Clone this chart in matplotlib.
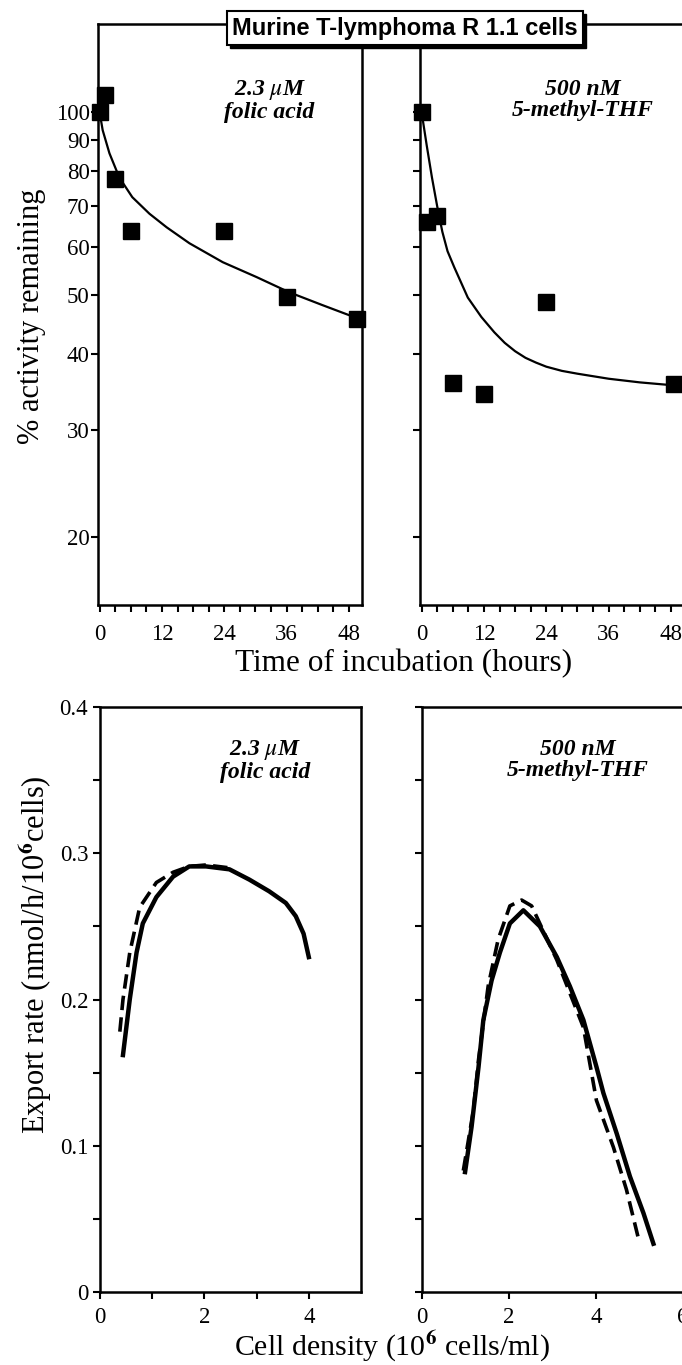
import matplotlib
matplotlib.use("Agg")
import matplotlib.pyplot as plt
from matplotlib.ticker import FixedLocator, NullFormatter, NullLocator

plt.rcParams['font.family'] = ['Liberation Serif', 'DejaVu Serif']
plt.rcParams['mathtext.fontset'] = 'stix'

# --- top panels: % activity remaining vs time (h) ---
folic_hours = [0, 1, 3, 6, 24, 36, 49.5]
folic_pct = [100, 106.8, 77.5, 63.6, 63.6, 49.6, 45.6]
folic_fit_hours = [0, 0.6, 1.9, 3.8, 6.3, 9.6, 12.9, 17.3, 23.7, 30.2, 36.5, 42.9, 49.8]
folic_fit_pct = [100, 93.3, 85.5, 78, 72.4, 68, 64.6, 60.8, 56.6, 53.5, 50.5, 48.1, 45.7]

mthf_hours = [0, 1, 3, 6, 12, 24, 48.5]
mthf_pct = [100, 66, 67.5, 35.8, 34.4, 48.6, 35.7]
mthf_fit_hours = [0, 1, 2, 3, 4, 5, 6.3, 8.9, 11.5, 14, 16, 18, 20, 22, 24, 27, 30,
                  36, 42, 48.5]
mthf_fit_pct = [100, 88, 78, 70, 63.5, 59, 55.5, 49.5, 46, 43.4, 41.7, 40.4, 39.4, 38.7,
                38.1, 37.5, 37.1, 36.4, 35.9, 35.5]

# --- bottom panels: export rate vs cell density ---
folic_solid_x = [0.44, 0.57, 0.7, 0.82, 1.08, 1.4, 1.71, 2.03, 2.48, 2.86, 3.24, 3.56, 3.75, 3.9, 4.0]
folic_solid_y = [0.162, 0.2, 0.232, 0.252, 0.27, 0.284, 0.291, 0.291, 0.289, 0.282, 0.274, 0.266, 0.257, 0.245, 0.229]
folic_dash_x = [0.38, 0.44, 0.57, 0.76, 1.08, 1.4, 1.71, 2.03, 2.48]
folic_dash_y = [0.178, 0.2, 0.232, 0.263, 0.28, 0.287, 0.291, 0.292, 0.29]

mthf_solid_x = [0.99, 1.14, 1.3, 1.41, 1.6, 1.79, 2.02, 2.33, 2.71, 3.1, 3.4, 3.71, 4.01, 4.17, 4.48, 4.78, 5.09, 5.32]
mthf_solid_y = [0.082, 0.113, 0.154, 0.186, 0.213, 0.232, 0.252, 0.261, 0.25, 0.229, 0.209, 0.186, 0.154, 0.136, 0.108, 0.079, 0.054, 0.033]
mthf_dash_x = [0.95, 1.18, 1.3, 1.52, 1.75, 2.02, 2.29, 2.52, 3.1, 3.71, 4.01, 4.4, 4.7, 4.98]
mthf_dash_y = [0.083, 0.124, 0.159, 0.209, 0.241, 0.264, 0.268, 0.264, 0.227, 0.181, 0.131, 0.099, 0.07, 0.036]

pct_ticks = [20, 30, 40, 50, 60, 70, 80, 90, 100]
hour_ticks = [0, 12, 24, 36, 48]

W, H = 682, 1365
fig = plt.figure(figsize=(W / 100, H / 100), dpi=100)


def box(x0, x1, y0, y1):
    return [x0 / W, 1 - y1 / H, (x1 - x0) / W, (y1 - y0) / H]


ax_tl = fig.add_axes(box(98, 362, 24, 605))
ax_tr = fig.add_axes(box(420, 684, 24, 605))
ax_bl = fig.add_axes(box(100, 361, 707, 1292))
ax_br = fig.add_axes(box(422, 683, 707, 1292))

for ax in (ax_tl, ax_tr, ax_bl, ax_br):
    for s in ax.spines.values():
        s.set_linewidth(1.8)
    ax.tick_params(which='both', direction='out', length=5, width=1.5,
                   labelsize=16.5, top=False, right=False)
    ax.tick_params(axis='x', pad=9)

for ax in (ax_bl, ax_br):
    ax.tick_params(axis='x', pad=6)

note = dict(fontsize=17, fontweight='bold', style='italic', ha='center',
            va='center', linespacing=1.0)

# top left
ax_tl.plot(folic_fit_hours, folic_fit_pct, color='black', lw=1.6)
ax_tl.plot(folic_hours, folic_pct, 's', color='black', ms=11, clip_on=False)
# top right
ax_tr.plot(mthf_fit_hours, mthf_fit_pct, color='black', lw=1.6)
ax_tr.plot(mthf_hours, mthf_pct, 's', color='black', ms=11, clip_on=False)

for ax in (ax_tl, ax_tr):
    ax.set_yscale('log')
    ax.set_ylim(15.45, 139.5)
    ax.set_xlim(-0.3, 50.5)
    ax.yaxis.set_major_locator(FixedLocator(pct_ticks))
    ax.yaxis.set_minor_locator(NullLocator())
    ax.yaxis.set_minor_formatter(NullFormatter())
    ax.xaxis.set_major_locator(FixedLocator(hour_ticks))
    ax.xaxis.set_minor_locator(FixedLocator(range(0, 49, 3)))
    ax.set_xticklabels([str(t) for t in hour_ticks])

ax_tl.set_yticklabels([str(t) for t in pct_ticks])
ax_tr.set_yticklabels([])
ax_tl.tick_params(axis='y', pad=1)
ax_tl.set_ylabel('% activity remaining', fontsize=22)
ax_tl.yaxis.set_label_coords(-52 / 264, (605 - 316) / 581)

ax_tl.text(0.65, 0.869, '2.3 $\\mu$M\nfolic acid', transform=ax_tl.transAxes, **note)
ax_tr.text(0.615, 0.869, '500 nM\n5-methyl-THF', transform=ax_tr.transAxes, **note)

fig.text(404 / W, 1 - 664 / H, 'Time of incubation (hours)', fontsize=22.5,
         ha='center', va='center')

# bottom left
ax_bl.plot(folic_solid_x, folic_solid_y, color='black', lw=3.2)
ax_bl.plot(folic_dash_x, folic_dash_y, color='black', lw=2.6, dashes=(4, 2))
ax_bl.set_xlim(0, 5)
ax_bl.set_xticks([0, 2, 4])
ax_bl.set_xticks([1, 3], minor=True)

# bottom right
ax_br.plot(mthf_solid_x, mthf_solid_y, color='black', lw=3.2)
ax_br.plot(mthf_dash_x, mthf_dash_y, color='black', lw=2.6, dashes=(4, 2))
ax_br.set_xlim(0, 6)
ax_br.set_xticks([0, 2, 4, 6])

for ax in (ax_bl, ax_br):
    ax.set_ylim(0, 0.4)
    ax.set_yticks([0, 0.1, 0.2, 0.3, 0.4])
    ax.set_yticks([0.05, 0.15, 0.25, 0.35], minor=True)

ax_bl.set_yticklabels(['0', '0.1', '0.2', '0.3', '0.4'])
ax_br.set_yticklabels([])
ax_bl.set_ylabel('Export rate (nmol/h/10$^{\\mathbf{6}}$cells)', fontsize=22)
ax_bl.yaxis.set_label_coords(-46 / 261, (1292 - 955) / 585)

ax_bl.text(0.632, 0.909, '2.3 $\\mu$M\nfolic acid', transform=ax_bl.transAxes, **note)
ax_br.text(0.598, 0.909, '500 nM\n5-methyl-THF', transform=ax_br.transAxes, **note)

fig.text(392 / W, 1 - 1346 / H, 'Cell density (10$^{\\mathbf{6}}$ cells/ml)', fontsize=21.5,
         ha='center', va='center')

# title box with a drop shadow
title = 'Murine T-lymphoma R 1.1 cells'
tkw = dict(fontsize=17, fontweight='bold', family=['Liberation Sans', 'DejaVu Sans'],
           ha='center', va='center')
fig.text(408 / W, 1 - 31 / H, title, color='black',
         bbox=dict(boxstyle='square,pad=0.22', fc='black', ec='black'), **tkw)
fig.text(405 / W, 1 - 28 / H, title, color='black',
         bbox=dict(boxstyle='square,pad=0.22', fc='white', ec='black', lw=1.5), **tkw)

fig.savefig('out.png', dpi=100)
